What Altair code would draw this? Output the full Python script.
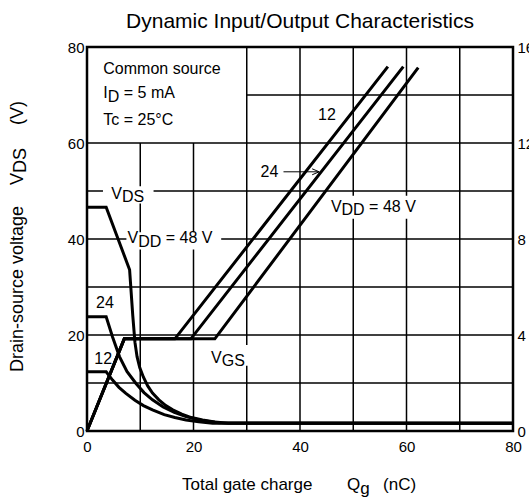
import altair as alt
import pandas as pd

# ---------------- data ----------------
# Drain-source voltage V_DS (left axis, V) versus total gate charge Qg (nC)
vds48_q = [0, 3.6, 8.0, 8.6, 9.0, 9.4, 9.9, 10.6, 11.4, 12.3, 13.5, 14.8, 16.1, 17.8, 19.6, 21.7, 24.0, 26.5, 80]
vds48_v = [46.6, 46.6, 33.6, 24.0, 18.5, 15.5, 13.2, 11.2, 9.4, 7.9, 6.5, 5.3, 4.4, 3.5, 2.8, 2.3, 1.9, 1.6, 1.6]
vds24_q = [0, 3.6, 4.8, 6.1, 7.5, 9.2, 10.7, 12.3, 14.3, 16.4, 18.6, 21.5, 24.8, 80]
vds24_v = [23.8, 23.8, 19.6, 15.5, 12.4, 9.9, 8.0, 6.5, 5.0, 3.9, 3.0, 2.2, 1.7, 1.6]
vds12_q = [0, 3.6, 4.8, 6.0, 7.3, 9.0, 10.6, 12.3, 14.5, 16.5, 18.6, 21.0, 23.6, 80]
vds12_v = [12.35, 12.35, 10.6, 9.1, 7.85, 6.4, 5.3, 4.4, 3.4, 2.8, 2.3, 1.9, 1.6, 1.6]

# Gate-source voltage V_GS (right axis, V)
vgs12_q = [0, 7.0, 16.5, 56.5]
vgs12_v = [0, 3.84, 3.84, 15.18]
vgs24_q = [0, 7.0, 19.5, 59.4]
vgs24_v = [0, 3.84, 3.84, 15.18]
vgs48_q = [0, 7.0, 24.0, 62.2]
vgs48_v = [0, 3.84, 3.84, 15.14]

# grid lines (left-axis units)
hgrid_y = [10, 20, 30, 40, 50, 60, 70]
hgrid_from = [0, 0, 0, 0, 0, 0, 30]
vgrid_x = [10, 20, 30, 40, 50, 60, 70]
vgrid_top = [60, 60, 80, 80, 80, 80, 80]

# white backgrounds behind labels that break the grid
mask_x1 = [3.0, 7.4, 45.5, 23.6]
mask_x2 = [12.5, 25.2, 61.8, 30.6]
mask_y1 = [47.4, 37.8, 44.2, 13.6]
mask_y2 = [51.0, 41.4, 49.0, 17.9]

# annotations ("_" marks a subscript part)
label_x = [3.06, 3.06, 3.06, 43.4, 32.6, 4.57, 7.6, 45.8, 1.7, 1.37, 23.3]
label_y = [75.35, 70.35, 64.8, 65.9, 53.9, 49.4, 40.2, 46.7, 26.6, 15.1, 15.3]
label_parts = [["Common source"], ["I", "_D", " = 5 mA"], ["Tc = 25°C"], ["12"], ["24"],
               ["V", "_DS"], ["V", "_DD", " = 48 V"], ["V", "_DD", " = 48 V"],
               ["24"], ["12"], ["V", "_GS"]]

arrow_x1, arrow_x2, arrow_y = 36.9, 43.6, 54.0

# axis titles
xtitle_x = [17.84, 48.83, 55.6]
xtitle_y = -11.25
xtitle_parts = [["Total gate charge"], ["Q", "_g"], ["(nC)"]]
ytitle_x = -12.96
ytitle_y = [12.3, 51.25, 63.75]
ytitle_parts = [["Drain-source voltage"], ["V", "_DS"], ["(V)"]]

# ---------------- layout ----------------
W, H = 426, 384
PX_X, PX_Y = W / 80, H / 80
FONT = "Liberation Sans"
SUB_PX = 3.5

AW = {' ': 278, '(': 333, ')': 333, '-': 333, '=': 584, '°': 400, '/': 278,
      'A': 667, 'C': 722, 'D': 722, 'G': 778, 'I': 278, 'Q': 778, 'S': 667, 'T': 611, 'V': 667,
      'a': 556, 'c': 500, 'e': 556, 'g': 556, 'h': 556, 'i': 222, 'l': 222, 'm': 833,
      'n': 556, 'o': 556, 'r': 333, 's': 500, 't': 278, 'u': 556, 'v': 500}


def tw(s, size):
    return sum(AW.get(c, 556) for c in s) * size / 1000.0


def pieces(x0, y0, parts, size, horizontal=True):
    rows, off = [], 0.0
    for p in parts:
        sub = p.startswith("_")
        t = p[1:] if sub else p
        lead = len(t) - len(t.lstrip(" "))
        off += tw(t[:lead], size)
        t = t.lstrip(" ")
        if horizontal:
            rows.append({"x": x0 + off / PX_X, "y": y0 - (SUB_PX / PX_Y if sub else 0), "t": t})
        else:
            rows.append({"x": x0 + (SUB_PX / PX_X if sub else 0), "y": y0 + off / PX_Y, "t": t})
        off += tw(t, size)
    return rows


ANN_SIZE, XT_SIZE, YT_SIZE = 16, 17, 18

ann_rows = []
for x0, y0, parts in zip(label_x, label_y, label_parts):
    ann_rows += pieces(x0, y0, parts, ANN_SIZE)
ann_df = pd.DataFrame(ann_rows)

xt_rows = []
for x0, parts in zip(xtitle_x, xtitle_parts):
    xt_rows += pieces(x0, xtitle_y, parts, XT_SIZE)
xt_df = pd.DataFrame(xt_rows)

yt_rows = []
for y0, parts in zip(ytitle_y, ytitle_parts):
    yt_rows += pieces(ytitle_x, y0, parts, YT_SIZE, horizontal=False)
yt_df = pd.DataFrame(yt_rows)

grid_rows = [{"x": a, "x2": 80, "y": y, "y2": y} for y, a in zip(hgrid_y, hgrid_from)]
grid_rows += [{"x": x, "x2": x, "y": 0, "y2": t} for x, t in zip(vgrid_x, vgrid_top)]
grid_df = pd.DataFrame(grid_rows)

mask_df = pd.DataFrame({"x": mask_x1, "x2": mask_x2, "y": mask_y1, "y2": mask_y2})

vds_rows = []
for name, qs, vs_ in [("48", vds48_q, vds48_v), ("24", vds24_q, vds24_v), ("12", vds12_q, vds12_v)]:
    for i, (q, v) in enumerate(zip(qs, vs_)):
        vds_rows.append({"q": q, "v": v, "s": name, "i": i})
vds_df = pd.DataFrame(vds_rows)

vgs_rows = []
for name, qs, vs_ in [("48", vgs48_q, vgs48_v), ("24", vgs24_q, vgs24_v), ("12", vgs12_q, vgs12_v)]:
    for i, (q, v) in enumerate(zip(qs, vs_)):
        vgs_rows.append({"q": q, "v": v, "s": name, "i": i})
vgs_df = pd.DataFrame(vgs_rows)

arrow_df = pd.DataFrame({"x": [arrow_x1], "x2": [arrow_x2], "y": [arrow_y], "y2": [arrow_y]})
head_df = pd.DataFrame({"x": [arrow_x2], "y": [arrow_y]})

# ---------------- scales & axes ----------------
xs = alt.Scale(domain=[0, 80], nice=False, zero=False)
ys = alt.Scale(domain=[0, 80], nice=False, zero=False)
vsc = alt.Scale(domain=[0, 16], nice=False, zero=False)

common_axis = dict(title=None, grid=False, ticks=False, tickSize=0, domain=False,
                   labelFontSize=15, labelFont=FONT, labelColor="black", labelFlush=False)
x_axis = alt.Axis(values=[0, 20, 40, 60, 80], labelPadding=8, **common_axis)
y_axis = alt.Axis(values=[0, 20, 40, 60, 80], labelPadding=3, **common_axis)
v_axis = alt.Axis(orient="right", values=[0, 4, 8, 12, 16], labelPadding=4, **common_axis)


def X(f):
    return alt.X(f"{f}:Q", scale=xs, axis=x_axis)


def Y(f):
    return alt.Y(f"{f}:Q", scale=ys, axis=y_axis)


grid = alt.Chart(grid_df).mark_rule(color="black", strokeWidth=1.5).encode(
    x=X("x"), x2="x2", y=Y("y"), y2="y2")

masks = alt.Chart(mask_df).mark_rect(color="white").encode(
    x=X("x"), x2="x2", y=Y("y"), y2="y2")

vds = alt.Chart(vds_df).mark_line(color="black", strokeWidth=3).encode(
    x=X("q"), y=Y("v"), detail="s:N", order="i:Q")

arrow = alt.Chart(arrow_df).mark_rule(color="black", strokeWidth=1).encode(
    x=X("x"), x2="x2", y=Y("y"), y2="y2")

head = alt.Chart(head_df).mark_point(
    shape="M -2 -0.85 L 0 0 L -2 0.85", size=49, filled=False, color="black",
    strokeWidth=1, opacity=1).encode(x=X("x"), y=Y("y"))

ann = alt.Chart(ann_df).mark_text(
    align="left", baseline="middle", font=FONT, fontSize=ANN_SIZE, color="black").encode(
    x=X("x"), y=Y("y"), text="t:N")

xt = alt.Chart(xt_df).mark_text(
    align="left", baseline="middle", font=FONT, fontSize=XT_SIZE, color="black").encode(
    x=X("x"), y=Y("y"), text="t:N")

yt = alt.Chart(yt_df).mark_text(
    align="left", baseline="middle", font=FONT, fontSize=YT_SIZE, color="black", angle=270).encode(
    x=X("x"), y=Y("y"), text="t:N")

left = alt.layer(grid, masks, vds, arrow, head, ann, xt, yt)

vgs = alt.Chart(vgs_df).mark_line(color="black", strokeWidth=3).encode(
    x=X("q"), y=alt.Y("v:Q", scale=vsc, axis=v_axis), detail="s:N", order="i:Q")

chart = alt.layer(left, vgs).resolve_scale(y="independent").properties(
    width=W, height=H,
    autosize=alt.AutoSizeParams(type="none"),
    padding={"left": 87, "top": 47, "right": 16, "bottom": 71},
    title=alt.TitleParams(text="Dynamic Input/Output Characteristics", fontSize=21, font=FONT,
                          fontWeight="normal", color="black", anchor="middle", frame="group",
                          offset=8),
).configure_view(stroke="black", strokeWidth=2.5)

chart.save("out.html", embed_options={"renderer": "svg", "actions": False})
